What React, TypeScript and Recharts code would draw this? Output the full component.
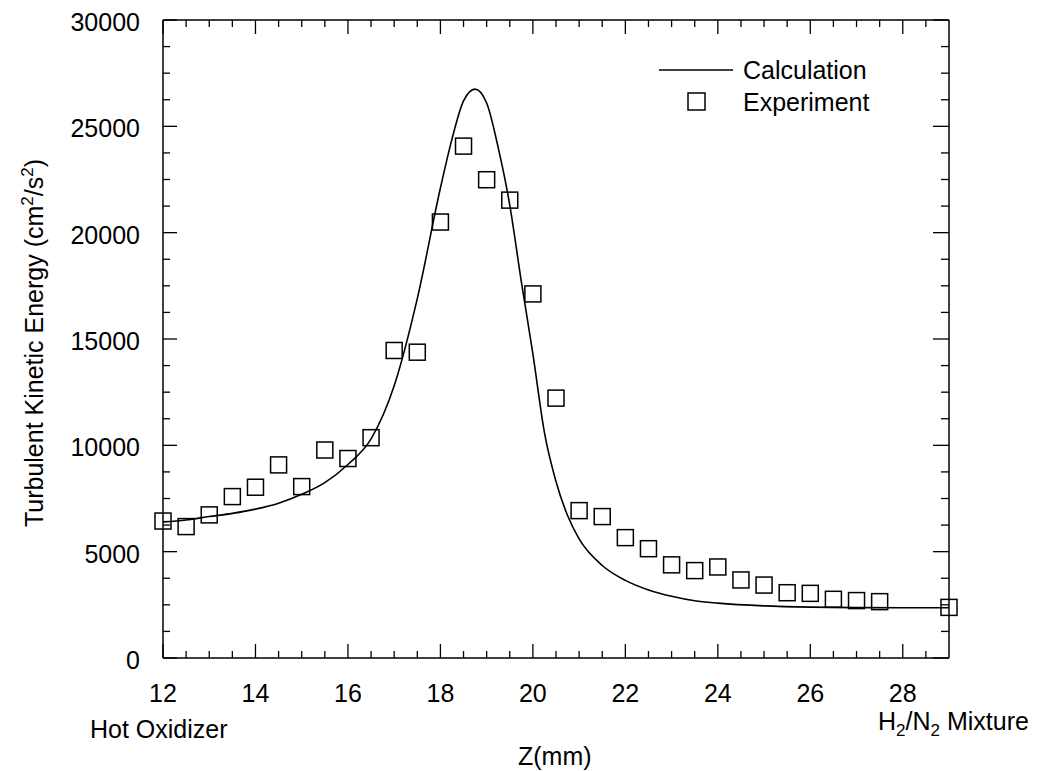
import React from "react";
import {
  ComposedChart,
  Line,
  Scatter,
  XAxis,
  YAxis
} from "recharts";

const FONT = "'Liberation Sans', Arial, Helvetica, sans-serif";
const FS = 25;

// calculation curve (z in mm, k in cm^2/s^2)
const CALC_Z = [12, 12.5, 13, 13.5, 14, 14.5, 15, 15.5, 16, 16.5, 17, 17.5, 18, 18.25, 18.5, 18.75, 19, 19.25, 19.5, 19.75, 20, 20.25, 20.5, 20.75, 21, 21.5, 22, 22.5, 23, 23.5, 24, 25, 26, 27, 28, 29];
const CALC_K = [6400, 6490, 6650, 6800, 7000, 7280, 7700, 8250, 9100, 10300, 12800, 16900, 22100, 24400, 26200, 26750, 26100, 24000, 21300, 17700, 14300, 10600, 8300, 6700, 5600, 4350, 3650, 3200, 2900, 2690, 2580, 2450, 2390, 2370, 2360, 2360];

// experiment squares
const EXP_Z = [12, 12.5, 13, 13.5, 14, 14.5, 15, 15.5, 16, 16.5, 17, 17.5, 18, 18.5, 19, 19.5, 20, 20.5, 21, 21.5, 22, 22.5, 23, 23.5, 24, 24.5, 25, 25.5, 26, 26.5, 27, 27.5, 29];
const EXP_K = [6440, 6180, 6730, 7590, 8030, 9080, 8060, 9780, 9380, 10360, 14460, 14380, 20500, 24070, 22490, 21530, 17120, 12220, 6930, 6650, 5660, 5140, 4380, 4110, 4280, 3670, 3430, 3070, 3040, 2760, 2700, 2650, 2380];

const X_TICKS = [12, 12.5, 13, 13.5, 14, 14.5, 15, 15.5, 16, 16.5, 17, 17.5, 18, 18.5, 19, 19.5, 20, 20.5, 21, 21.5, 22, 22.5, 23, 23.5, 24, 24.5, 25, 25.5, 26, 26.5, 27, 27.5, 28, 28.5];
const X_LABELS = [12, 14, 16, 18, 20, 22, 24, 26, 28];
const Y_TICKS = [0, 1250, 2500, 3750, 5000, 6250, 7500, 8750, 10000, 11250, 12500, 13750, 15000, 16250, 17500, 18750, 20000, 21250, 22500, 23750, 25000, 26250, 27500, 28750, 30000];
const Y_LABELS = [0, 5000, 10000, 15000, 20000, 25000, 30000];

const calcData = CALC_Z.map((z, i) => ({ z, k: CALC_K[i] }));
const expData = EXP_Z.map((z, i) => ({ z, k: EXP_K[i] }));

const MAJOR = 14;
const MINOR = 7;

const BottomTick = (props: any) => {
  const { x, y, payload } = props;
  const major = X_LABELS.includes(payload.value);
  return (
    <g>
      <line x1={x} x2={x} y1={y} y2={y - (major ? MAJOR : MINOR)} stroke="#000" strokeWidth={1.3} />
      {major && (
        <text x={x} y={y + 44} textAnchor="middle" fontSize={FS} fontFamily={FONT} fill="#000">
          {payload.value}
        </text>
      )}
    </g>
  );
};

const TopTick = (props: any) => {
  const { x, y, payload } = props;
  const major = X_LABELS.includes(payload.value);
  return <line x1={x} x2={x} y1={y} y2={y + (major ? MAJOR : MINOR)} stroke="#000" strokeWidth={1.3} />;
};

const LeftTick = (props: any) => {
  const { x, y, payload } = props;
  const major = Y_LABELS.includes(payload.value);
  return (
    <g>
      <line x1={x} x2={x + (major ? MAJOR : MINOR)} y1={y} y2={y} stroke="#000" strokeWidth={1.3} />
      {major && (
        <text x={x - 23} y={y + 11} textAnchor="end" fontSize={FS} fontFamily={FONT} fill="#000">
          {payload.value}
        </text>
      )}
    </g>
  );
};

const RightTick = (props: any) => {
  const { x, y, payload } = props;
  const major = Y_LABELS.includes(payload.value);
  return <line x1={x} x2={x - (major ? MAJOR + 2 : MINOR + 1)} y1={y} y2={y} stroke="#000" strokeWidth={1.3} />;
};

const Square = (props: any) => {
  const { cx, cy } = props;
  return <rect x={cx - 8} y={cy - 8} width={16} height={16} fill="none" stroke="#000" strokeWidth={1.5} />;
};

const textStyle: React.CSSProperties = {
  position: "absolute",
  fontFamily: FONT,
  fontSize: FS,
  color: "#000",
  whiteSpace: "nowrap",
  lineHeight: 1
};

export default function App() {
  return (
    <div style={{ position: "absolute", left: 0, top: 0, width: 1039, height: 771, background: "#fff" }}>
      <ComposedChart
        width={1039}
        height={771}
        margin={{ top: 19, right: 89, bottom: 73, left: 83 }}
      >
        <XAxis
          xAxisId="bottom"
          dataKey="z"
          type="number"
          domain={[12, 29]}
          ticks={X_TICKS}
          interval={0}
          tickSize={0}
          tickMargin={0}
          tickLine={false}
          tick={<BottomTick />}
          axisLine={{ stroke: "#000", strokeWidth: 1.5 }}
          height={40}
        />
        <XAxis
          xAxisId="top"
          orientation="top"
          dataKey="z"
          type="number"
          domain={[12, 29]}
          ticks={X_TICKS}
          interval={0}
          tickSize={0}
          tickMargin={0}
          tickLine={false}
          tick={<TopTick />}
          axisLine={{ stroke: "#000", strokeWidth: 1.5 }}
          height={1}
        />
        <YAxis
          yAxisId="left"
          type="number"
          domain={[0, 30000]}
          ticks={Y_TICKS}
          interval={0}
          tickSize={0}
          tickMargin={0}
          tickLine={false}
          tick={<LeftTick />}
          axisLine={{ stroke: "#000", strokeWidth: 1.5 }}
          width={80}
        />
        <YAxis
          yAxisId="right"
          orientation="right"
          type="number"
          domain={[0, 30000]}
          ticks={Y_TICKS}
          interval={0}
          tickSize={0}
          tickMargin={0}
          tickLine={false}
          tick={<RightTick />}
          axisLine={{ stroke: "#000", strokeWidth: 1.5 }}
          width={1}
        />
        <Line
          xAxisId="top"
          yAxisId="right"
          data={calcData}
          dataKey="k"
          type="monotone"
          stroke="#000"
          strokeWidth={1.6}
          dot={false}
          activeDot={false}
          isAnimationActive={false}
          name="Calculation"
        />
        <Scatter
          xAxisId="bottom"
          yAxisId="left"
          data={expData}
          dataKey="k"
          shape={<Square />}
          isAnimationActive={false}
          name="Experiment"
        />
      </ComposedChart>
      {/* legend */}
      <svg width={270} height={70} style={{ position: "absolute", left: 655, top: 55 }}>
        <line x1={4} x2={78} y1={15} y2={15} stroke="#000" strokeWidth={1.5} />
        <text x={88} y={24} fontSize={FS} fontFamily={FONT} fill="#000">Calculation</text>
        <rect x={33} y={38} width={17} height={17} fill="none" stroke="#000" strokeWidth={1.5} />
        <text x={88} y={56} fontSize={FS} fontFamily={FONT} fill="#000">Experiment</text>
      </svg>
      <div
        style={{
          ...textStyle,
          left: 33,
          top: 343,
          transform: "translate(-50%, -50%) rotate(-90deg)"
        }}
      >
        Turbulent Kinetic Energy (cm<sup style={{ fontSize: 17 }}>2</sup>/s<sup style={{ fontSize: 17 }}>2</sup>)
      </div>
      <div style={{ ...textStyle, left: 90, top: 717 }}>Hot Oxidizer</div>
      <div style={{ ...textStyle, left: 878, top: 709 }}>
        H<sub style={{ fontSize: 17 }}>2</sub>/N<sub style={{ fontSize: 17 }}>2</sub> Mixture
      </div>
      <div style={{ ...textStyle, left: 518, top: 744 }}>Z(mm)</div>
    </div>
  );
}
